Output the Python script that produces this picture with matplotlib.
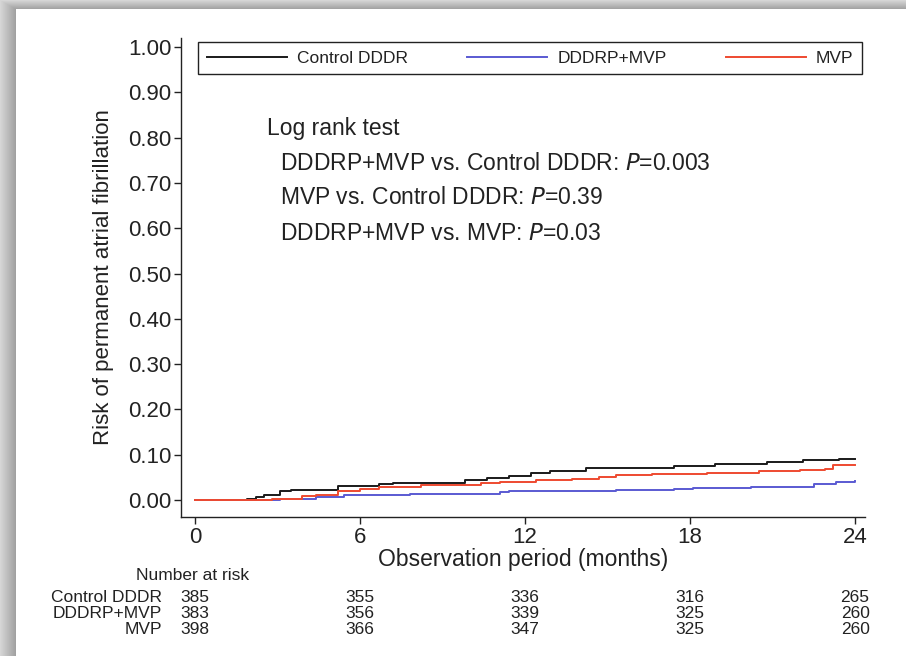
import numpy as np
import matplotlib

matplotlib.use("Agg")
import matplotlib.pyplot as plt
from matplotlib import transforms

plt.rcParams["font.family"] = ["Liberation Sans", "DejaVu Sans"]

# Kaplan-Meier style cumulative risk (step functions)
control_t = [0, 1.9, 2.2, 2.5, 3.1, 3.5, 5.2, 6.7, 7.2, 9.8, 10.6, 11.4, 12.2, 12.9, 14.2, 17.4, 18.9, 20.8, 22.1, 23.4, 24]
control_y = [0, 0.003, 0.0065, 0.0106, 0.019, 0.022, 0.031, 0.035, 0.0385, 0.0434, 0.049, 0.054, 0.060, 0.064, 0.070, 0.076, 0.080, 0.084, 0.088, 0.090, 0.090]

dddrp_t = [0, 2.3, 3.1, 4.4, 5.4, 7.8, 11.1, 11.4, 15.3, 17.4, 18.1, 20.2, 22.5, 23.3, 24]
dddrp_y = [0, 0.001, 0.0025, 0.0065, 0.0106, 0.014, 0.017, 0.020, 0.023, 0.025, 0.027, 0.0295, 0.035, 0.040, 0.041]

mvp_t = [0, 2.0, 2.8, 3.9, 4.4, 5.2, 6.0, 6.7, 8.2, 10.4, 11.1, 12.4, 13.7, 14.7, 15.3, 16.6, 18.6, 20.5, 22.0, 22.9, 23.2, 24]
mvp_y = [0, 0.001, 0.0025, 0.008, 0.012, 0.019, 0.0245, 0.0286, 0.0335, 0.037, 0.040, 0.0434, 0.047, 0.051, 0.055, 0.0573, 0.0605, 0.063, 0.066, 0.068, 0.078, 0.078]

groups = ["Control DDDR", "DDDRP+MVP", "MVP"]
colors = ["#1a1a1a", "#5a5ad2", "#ee4a30"]

risk_times = [0, 6, 12, 18, 24]
at_risk_control = [385, 355, 336, 316, 265]
at_risk_dddrp = [383, 356, 339, 325, 260]
at_risk_mvp = [398, 366, 347, 325, 260]

logrank_lines = [
    ("DDDRP+MVP vs. Control DDDR: ", "0.003"),
    ("MVP vs. Control DDDR: ", "0.39"),
    ("DDDRP+MVP vs. MVP: ", "0.03"),
]

W, H = 906, 656
fig = plt.figure(figsize=(W / 100, H / 100), dpi=100)

# drop-shadow frame behind a white panel
bg = fig.add_axes([0, 0, 1, 1])
bg.axis("off")
yy, xx = np.mgrid[0:H, 0:W]
dx = np.clip(16 - xx, 0, None) / 16.0
dy = np.clip(9 - yy, 0, None) / 9.0
d = np.maximum(dx, dy)
img = np.where(d > 0, 0.62 + 0.22 * d, 1.0)
bg.imshow(np.dstack([img] * 3), extent=[0, W, H, 0], aspect="auto", interpolation="bilinear")
bg.set_xlim(0, W)
bg.set_ylim(H, 0)


def fx(px):
    return px / W


def fy(py):
    return 1 - py / H


ax_l, ax_r, ax_t, ax_b = 181, 865, 38, 517
ax = fig.add_axes([fx(ax_l), fy(ax_b), fx(ax_r - ax_l), (ax_b - ax_t) / H])
ax.patch.set_alpha(0)

series = [(control_t, control_y), (dddrp_t, dddrp_y), (mvp_t, mvp_y)]
handles = []
for (t, y), name, c in zip(series, groups, colors):
    (h,) = ax.step(t, y, where="post", color=c, lw=1.4, label=name)
    handles.append(h)

ax.set_xlim(-0.51, 24.36)
ax.set_ylim(-0.0375, 1.02)
ax.set_xticks(risk_times)
ax.set_yticks(np.arange(0, 1.01, 0.1))
ax.set_yticklabels([f"{v:.2f}" for v in np.arange(0, 1.01, 0.1)])
for s in ["top", "right"]:
    ax.spines[s].set_visible(False)
for s in ["left", "bottom"]:
    ax.spines[s].set_linewidth(1.0)
    ax.spines[s].set_color("#222222")
ax.tick_params(axis="both", direction="out", length=5, width=1.0, color="#222222",
               labelsize=16, labelcolor="#222222", pad=2)
ax.set_ylabel("Risk of permanent atrial fibrillation", fontsize=16, color="#222222", labelpad=10)
ax.set_xlabel("Observation period (months)", fontsize=16.5, color="#222222", labelpad=0)

leg = ax.legend(handles=handles, ncol=3, mode="expand", loc="upper left",
                bbox_to_anchor=(0.025, 0.921, 0.971, 0.071), borderaxespad=0,
                fancybox=False, edgecolor="#222222", framealpha=1, fontsize=12.5,
                handlelength=4.6, handletextpad=0.6, borderpad=0.5)
leg.get_frame().set_linewidth(1.0)
for text in leg.get_texts():
    text.set_color("#222222")

# log rank test annotation
fig.text(fx(267), fy(128), "Log rank test", fontsize=16.5, color="#222222", va="center", ha="left")
for i, (lab, p) in enumerate(logrank_lines):
    fig.text(fx(280), fy(163 + 35 * i), lab + r"$\it{P}$=" + p, fontsize=16.5,
             color="#222222", va="center", ha="left")

# number at risk table
blend = transforms.blended_transform_factory(ax.transData, fig.transFigure)
fig.text(fx(136), fy(576), "Number at risk", fontsize=12.5, color="#222222", va="center", ha="left")
rows = [at_risk_control, at_risk_dddrp, at_risk_mvp]
for r, (name, vals) in enumerate(zip(groups, rows)):
    yrow = fy(597 + 16 * r)
    fig.text(fx(162), yrow, name, fontsize=12.5, color="#222222", va="center", ha="right")
    for t, v in zip(risk_times, vals):
        ax.text(t, yrow, str(v), transform=blend, fontsize=12.5, color="#222222",
                va="center", ha="center", clip_on=False)

fig.savefig("out.png", dpi=100)
